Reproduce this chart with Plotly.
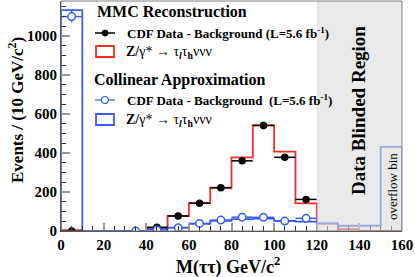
import plotly.graph_objects as go

# ---- data ----
bin_edges = [0, 10, 20, 30, 40, 50, 60, 70, 80, 90, 100, 110, 120, 130, 140, 150, 160]
mmc_signal = [5, 0, 0, 0, 12, 77, 143, 222, 378, 543, 407, 142, 38, 10, 0, 0]
col_signal = [1133, 0, 0, 0, 10, 17, 37, 52, 61, 63, 52, 48, 39, 27, 27, 432]

mmc_data_x = [5, 35, 45, 55, 65, 75, 85, 95, 105, 115]
mmc_data_y = [0, 0, 19, 77, 143, 222, 360, 541, 378, 162]
mmc_data_err = [4, 4, 8, 10, 11, 13, 15, 19, 16, 12]

col_data_x = [5, 35, 45, 55, 65, 75, 85, 95, 105, 115]
col_data_y = [1100, 0, 5, 17, 39, 56, 71, 70, 51, 65]
col_data_err = [30, 3, 4, 5, 6, 7, 8, 8, 7, 8]

x_ticks = [0, 20, 40, 60, 80, 100, 120, 140, 160]
y_ticks = [0, 200, 400, 600, 800, 1000]

RED = "#ff2a2a"
BLUE = "#3a5cf0"
FONT = "Liberation Serif"

W, H = 415, 277
ML, MR, MT, MB = 61, 13, 1, 46
PW, PH = W - ML - MR, H - MT - MB


def px(xp):
    return (xp - ML) / PW


def py(yp):
    return (H - MB - yp) / PH


def step(edges, vals):
    xs = [edges[0]] + edges[:-1] + [edges[-1], edges[-1]]
    ys = [0] + vals + [vals[-1], 0]
    return xs, ys


fig = go.Figure()

rx, ry = step(bin_edges, mmc_signal)
fig.add_trace(go.Scatter(x=rx, y=ry, mode="lines", line=dict(color=RED, width=1.8, shape="hv"),
                         showlegend=False, hoverinfo="skip"))
bx, by = step(bin_edges, col_signal)
fig.add_trace(go.Scatter(x=bx, y=by, mode="lines", line=dict(color=BLUE, width=1.8, shape="hv"),
                         showlegend=False, hoverinfo="skip"))

fig.add_trace(go.Scatter(
    x=mmc_data_x, y=mmc_data_y, mode="markers",
    marker=dict(color="black", size=7.5),
    error_x=dict(type="constant", value=5, color="black", thickness=1.5, width=0),
    error_y=dict(type="data", array=mmc_data_err, color="black", thickness=1.5, width=0),
    showlegend=False))

fig.add_trace(go.Scatter(
    x=col_data_x, y=col_data_y, mode="markers",
    marker=dict(color="white", size=7.5, line=dict(color=BLUE, width=1.5)),
    error_x=dict(type="constant", value=5, color=BLUE, thickness=1.5, width=0),
    error_y=dict(type="data", array=col_data_err, color=BLUE, thickness=1.5, width=0),
    showlegend=False))

shapes = []
# blinded region overlay
shapes.append(dict(type="rect", xref="x", yref="paper", x0=120, x1=160, y0=0, y1=1,
                   fillcolor="#dadada", opacity=0.6, line=dict(width=0), layer="above"))
# frame
shapes.append(dict(type="rect", xref="paper", yref="paper", x0=0, x1=1, y0=0, y1=1,
                   line=dict(color="#808080", width=1), layer="above"))

# legend icons
shapes.append(dict(type="line", xref="paper", yref="paper", x0=px(95), x1=px(115), y0=py(33), y1=py(33),
                   line=dict(color="black", width=1.5)))
shapes.append(dict(type="circle", xref="paper", yref="paper", x0=px(102), x1=px(108), y0=py(36), y1=py(30),
                   fillcolor="black", line=dict(color="black", width=1)))
shapes.append(dict(type="rect", xref="paper", yref="paper", x0=px(96), x1=px(114), y0=py(57), y1=py(46),
                   line=dict(color=RED, width=1.8)))
shapes.append(dict(type="line", xref="paper", yref="paper", x0=px(95), x1=px(115), y0=py(100), y1=py(100),
                   line=dict(color=BLUE, width=1.2)))
shapes.append(dict(type="circle", xref="paper", yref="paper", x0=px(101.5), x1=px(108.5), y0=py(103.5), y1=py(96.5),
                   fillcolor="white", line=dict(color=BLUE, width=1.2)))
shapes.append(dict(type="rect", xref="paper", yref="paper", x0=px(96), x1=px(114), y0=py(125), y1=py(114),
                   line=dict(color=BLUE, width=1.8)))

annotations = []


def txt(text, xp, yp, size, bold=True, xanchor="left", angle=0, color="black"):
    annotations.append(dict(text=text, xref="paper", yref="paper", x=px(xp), y=py(yp),
                            xanchor=xanchor, yanchor="middle", showarrow=False, textangle=angle,
                            font=dict(family=FONT, size=size, color=color,
                                      weight="bold" if bold else "normal")))


txt("MMC Reconstruction", 95, 12, 16)
txt("CDF Data - Background (L=5.6 fb<sup>-1</sup>)", 125, 33, 13)
txt("<b>Z/</b>γ* → τ<sub><b><i>l</i></b></sub>τ<sub><b>h</b></sub>ννν", 124, 52, 14, bold=False)
txt("Collinear Approximation", 92, 80, 16)
txt("CDF Data - Background  (L=5.6 fb<sup>-1</sup>)", 125, 100, 13)
txt("<b>Z/</b>γ* → τ<sub><b><i>l</i></b></sub>τ<sub><b>h</b></sub>ννν", 124, 120, 14, bold=False)

txt("Data Blinded Region", 358, 111, 19, xanchor="center", angle=-90)
txt("overflow bin", 392, 187, 13, bold=False, xanchor="center", angle=-90)

txt("Events / (10 GeV/c<sup>2</sup>)", 16, 110, 17, xanchor="center", angle=-90)
txt("M(ττ) GeV/c<sup>2</sup>", 228, 266, 18, xanchor="center")

fig.update_layout(
    width=W, height=H,
    margin=dict(l=ML, r=MR, t=MT, b=MB, autoexpand=False),
    plot_bgcolor="white", paper_bgcolor="white",
    shapes=shapes, annotations=annotations,
    xaxis=dict(range=[0, 160], tickvals=x_ticks, ticktext=[str(v) for v in x_ticks],
               ticks="inside", ticklen=8, tickwidth=1.5, tickcolor="#999", automargin=False,
               minor=dict(dtick=5, ticks="inside", ticklen=5, tickcolor="#333", tickwidth=1),
               showline=True, linecolor="#333", linewidth=1.2, showgrid=False, zeroline=False,
               tickfont=dict(family=FONT, size=15, color="black", weight="bold")),
    yaxis=dict(range=[0, 1180], tickvals=y_ticks, ticktext=[str(v) for v in y_ticks],
               ticks="inside", ticklen=9, tickwidth=1.5, tickcolor="#999", automargin=False,
               minor=dict(dtick=50, ticks="inside", ticklen=5, tickcolor="#333", tickwidth=1),
               showline=True, linecolor="#333", linewidth=1.2, showgrid=False, zeroline=False,
               tickfont=dict(family=FONT, size=15, color="black", weight="bold")),
)

fig.write_html("out.html", config={"displayModeBar": False},
               post_script="document.body.style.margin='0px';document.body.style.padding='0px';")
